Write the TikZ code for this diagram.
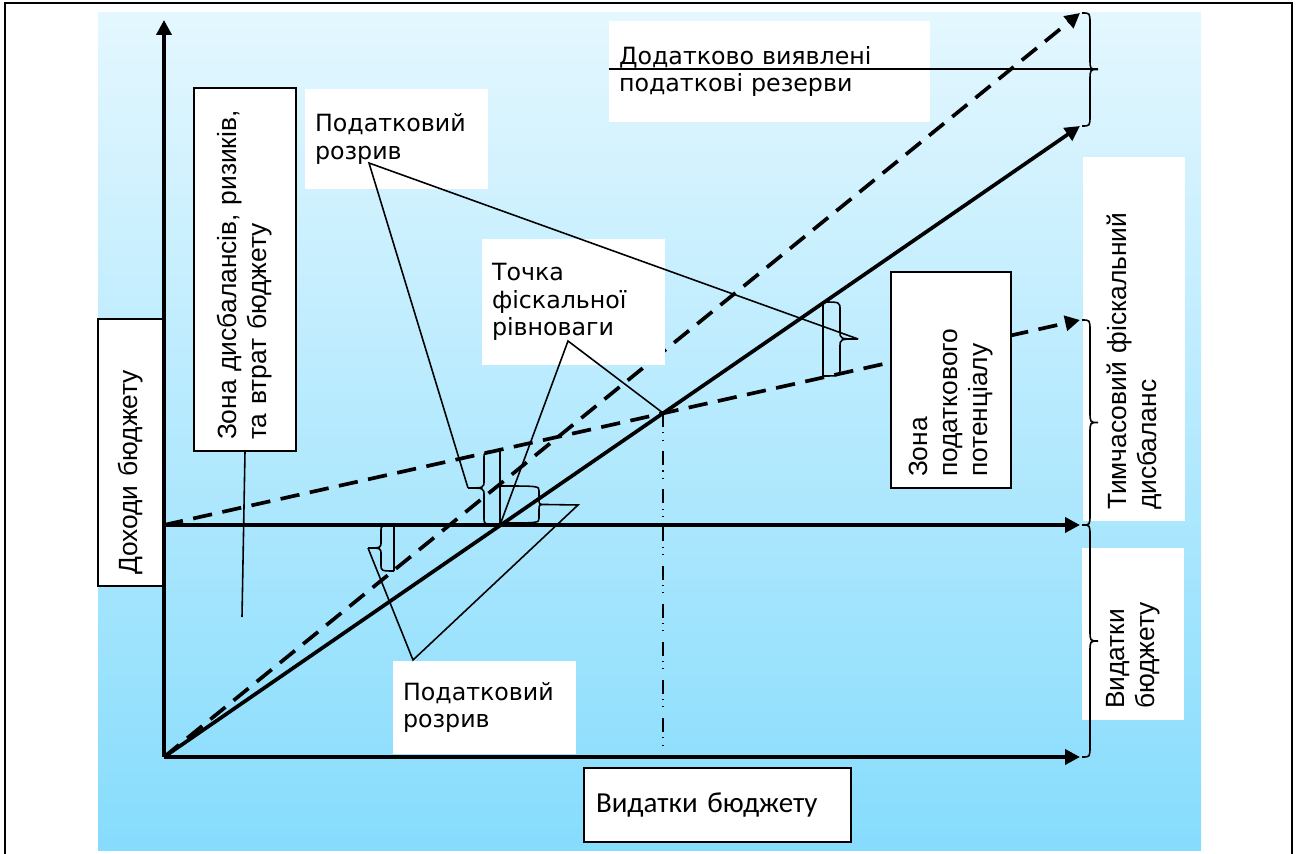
\documentclass[tikz,border=0pt]{standalone}
\usepackage{fontspec}
\usepackage{tikz}
\usetikzlibrary{arrows.meta,positioning}

\newfontfamily\labelfont{DejaVu Sans}
\newfontfamily\sidefont{Liberation Sans}
\newfontfamily\axisfont{Carlito}

\definecolor{skytop}{RGB}{228,247,254}
\definecolor{skybottom}{RGB}{134,220,253}

% curly brace beside a vertical gap: x, top, bottom, body offset, tip offset, curve size (signed)
\newcommand{\gapbrace}[6]{%
  \draw[bracepath] (#1,#2) .. controls ({#1+(#4)},#2) .. ({#1+(#4)},{#2+(#6)})
    -- ({#1+(#4)},{(#2+#3)/2-(#6)})
    .. controls ({#1+(#4)},{(#2+#3)/2}) .. ({#1+(#5)},{(#2+#3)/2})
    .. controls ({#1+(#4)},{(#2+#3)/2}) .. ({#1+(#4)},{(#2+#3)/2+(#6)})
    -- ({#1+(#4)},{#3-(#6)}) .. controls ({#1+(#4)},#3) .. (#1,#3);}

\begin{document}
\begin{tikzpicture}[
        x=0.02cm,
        y=-0.02cm,
        axis/.style={line width=2.1pt, -{Triangle[length=8.5pt,width=8.5pt]}},
        revenue/.style={axis, dash pattern=on 11pt off 6pt},
        guide/.style={line width=0.6pt, dash pattern=on 8pt off 3pt on 0.6pt off 3.5pt on 0.6pt off 6pt},
        callout/.style={line width=0.9pt},
        bracepath/.style={line width=0.9pt},
        note/.style={fill=white, align=left, inner xsep=0.2cm, inner ysep=0pt,
            font=\labelfont\fontsize{13.5}{15.5}\selectfont},
        sidenote/.style={fill=white, rotate=90, align=left, inner xsep=0.22cm, inner ysep=0pt,
            font=\sidefont\fontsize{15}{17}\selectfont},
        framed/.style={draw, line width=0.8pt}
    ]
        \useasboundingbox (0,0) rectangle (1298,854);
        \draw[line width=1.2pt] (5,854) -- (5,3) -- (1292,3) -- (1292,854);
        \shade[top color=skytop, bottom color=skybottom] (98,13) rectangle (1201,850);

        % key points of the diagram
        \coordinate (origin) at (164,757);
        \coordinate (base) at (164,525);
        \coordinate (eq) at (500,525);
        \coordinate (cross) at (663,413);

        % axes and budget lines
        \draw[axis] (origin) -- (164,20);
        \draw[axis] (origin) -- (1080,757);
        \draw[axis] (base) -- (1080,525);
        \draw[axis] (origin) -- (1080,126);
        \draw[revenue] (origin) -- (1080,13);
        \draw[revenue] (base) -- (1080,320);
        \draw[guide] (cross) -- (cross |- origin);

        % labels
        \node[sidenote, framed, text width=4.9cm, minimum height=1.3cm] (income) at (130.5,452.5) {Доходи бюджету};
        \node[sidenote, framed, text width=6.82cm, minimum height=2.04cm] (losszone) at (245,269.5)
            {Зона дисбалансів, ризиків,\\та втрат бюджету};
        \node[sidenote, framed, text width=3.88cm, minimum height=2.4cm] (potential) at (951,380)
            {Зона\\податкового\\потенціалу};
        \node[sidenote, text width=6.84cm, minimum height=2.04cm] (tempgap) at (1134,339)
            {Тимчасовий фіскальний\\дисбаланс};
        \node[sidenote, text width=3.0cm, minimum height=2.04cm] (spendside) at (1133,634)
            {Видатки\\бюджету};
        \node[note, text width=3.26cm, minimum height=2.0cm] (gapup) at (396.5,139) {Податковий\\розрив};
        \node[note, text width=3.26cm, minimum height=1.86cm] (gapdown) at (484.5,707.5) {Податковий\\розрив};
        \node[note, text width=3.26cm, minimum height=2.52cm] (balance) at (573.5,302)
            {Точка\\фіскальної\\рівноваги};
        \node[note, text width=6.02cm, minimum height=2.02cm] (reserve) at (769.5,71.5)
            {Додатково виявлені\\податкові резерви};
        \node[note, framed, inner xsep=0.24cm, text width=4.86cm, minimum height=1.48cm,
            font=\axisfont\fontsize{16.5}{18}\selectfont] (spend) at (717.5,805) {Видатки бюджету};

        % braces
        \gapbrace{1082}{13}{126}{8}{16}{11}
        \gapbrace{1082}{320}{525}{8}{16}{11}
        \gapbrace{1082}{525}{757}{8}{16}{11}
        \foreach \x/\a/\b in {394/525/571, 500/451/525, 823/302/376} {
            \draw[callout] (\x,\a) -- (\x,\b);
        }
        \gapbrace{823}{302}{376}{17}{35}{8}
        \gapbrace{500}{525}{451}{-16}{-32}{-8}
        \gapbrace{394}{571}{525}{-13}{-26}{-7}
        \gapbrace{500}{486}{523}{39}{46}{5}

        % callout lines
        \coordinate (reservetip) at (1098,69);
        \coordinate (gapupapex) at (369,163);
        \coordinate (widetip) at (858,339);
        \coordinate (eqlefttip) at (468,488);
        \coordinate (balanceapex) at (568,341);
        \coordinate (gapdownapex) at (413,660);
        \coordinate (lowtip) at (368,548);
        \coordinate (eqrighttip) at (546,504.5);
        \coordinate (eqbend) at (578,505);
        \coordinate (lossend) at (242,617);

        \draw[callout] (reserve.west |- reservetip) -- (reservetip);
        \draw[callout] (widetip) -- (gapupapex) -- (eqlefttip);
        \draw[callout] (eq) -- (balanceapex) -- (cross);
        \draw[callout] (lowtip) -- (gapdownapex) -- (eqbend) -- (eqrighttip);
        \draw[callout] (losszone.west) -- (lossend);
\end{tikzpicture}
\end{document}
